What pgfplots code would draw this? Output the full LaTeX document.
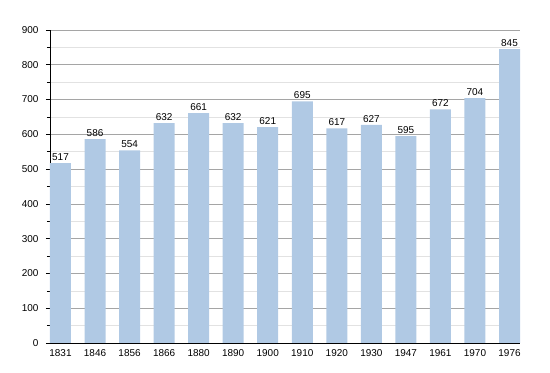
\documentclass[border=0pt]{standalone}
\usepackage{fontspec}
\setmainfont{Liberation Sans}
\usepackage{pgfplots}
\pgfplotsset{compat=1.18}
\definecolor{barblue}{RGB}{176,201,228}
\definecolor{majgrid}{RGB}{165,165,165}
\definecolor{mingrid}{RGB}{226,226,226}
\begin{document}
\begin{tikzpicture}[x=1bp,y=1bp]
\begin{axis}[
  scale only axis,
  width=470bp, height=313bp,
  xmin=-0.304, xmax=13.304,
  ymin=0, ymax=900,
  ytick={0,100,...,900},
  minor ytick={50,150,...,850},
  xtick={0,...,13},
  xticklabels={1831,1846,1856,1866,1880,1890,1900,1910,1920,1930,1947,1961,1970,1976},
  axis lines*=left,
  axis line style={-, black, line width=0.9pt},
  ymajorgrids, yminorgrids,
  major grid style={majgrid, line width=0.6pt},
  minor grid style={mingrid, line width=0.6pt},
  tick align=outside,
  major tick length=4bp,
  minor tick length=3bp,
  x tick style={draw=none},
  y tick style={black, line width=0.6pt},
  tick label style={font=\fontsize{10}{12}\selectfont},
  /pgf/number format/assume math mode=true,
  yticklabel style={xshift=-4bp},
  xticklabel style={yshift=1bp},
  ybar, bar width=21bp,
  nodes near coords,
  every node near coord/.append style={font=\fontsize{10}{12}\selectfont, yshift=-1bp},
  point meta=explicit symbolic,
  clip=false,
]
\addplot[fill=barblue, draw=none] coordinates {
(0,517) [517] (1,586) [586] (2,554) [554] (3,632) [632] (4,661) [661]
(5,632) [632] (6,621) [621] (7,695) [695] (8,617) [617] (9,627) [627]
(10,595) [595] (11,672) [672] (12,704) [704] (13,845) [845]};
\end{axis}
\path[use as bounding box] (current axis.south west) ++(-50bp,-30bp) rectangle ([xshift=30bp,yshift=30bp]current axis.north east);
\end{tikzpicture}
\end{document}
